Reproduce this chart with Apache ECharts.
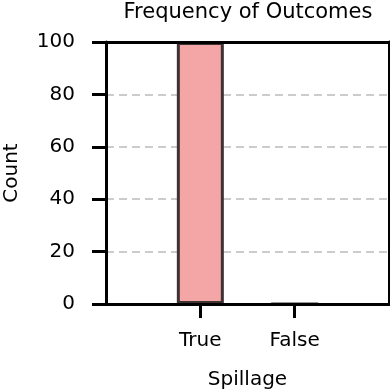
<!DOCTYPE html>
<html>
<head>
<meta charset="utf-8">
<script src="https://cdn.jsdelivr.net/npm/echarts@6/dist/echarts.min.js"></script>
<style>
  html, body { margin: 0; padding: 0; background: #fff; }
  #chart { width: 390px; height: 390px; }
</style>
</head>
<body>
<div id="chart"></div>
<script>
// data
const categories = ['True', 'False']
const counts = [100, 0]
const yTicks = [0, 20, 40, 60, 80, 100]

const chart = echarts.init(document.getElementById('chart'))

// pad one empty slot on each side so the bars sit like in the original (xlim -1..2)
const axisCats = ['', ...categories, '']
const barData = [null, ...counts, null]
const isReal = (i) => i > 0 && i < axisCats.length - 1

const font = 'DejaVu Sans'
const spine = { color: '#000', width: 3 }

const option = {
  animation: false,
  textStyle: { fontFamily: font },
  title: {
    text: 'Frequency of Outcomes',
    left: 243,
    top: -3,
    textAlign: 'center',
    textStyle: { fontSize: 21, fontWeight: 'normal', color: '#000', fontFamily: font },
  },
  grid: { left: 106, right: 1, top: 42, bottom: 86, outerBoundsMode: 'none' },
  xAxis: [
    {
      type: 'category',
      data: axisCats,
      boundaryGap: false,
      name: 'Spillage',
      nameLocation: 'middle',
      nameGap: 66,
      nameTextStyle: { fontSize: 20, color: '#000' },
      axisLine: { onZero: false, lineStyle: spine },
      axisTick: { length: 14, lineStyle: spine, interval: (i) => isReal(i) },
      axisLabel: { margin: 27, fontSize: 20, color: '#000', interval: (i) => isReal(i) },
      splitLine: { show: false },
      z: 5,
    },
    {
      // top spine
      type: 'category',
      data: axisCats,
      boundaryGap: false,
      position: 'top',
      axisLine: { onZero: false, lineStyle: spine },
      axisTick: { show: false },
      axisLabel: { show: false },
      z: 5,
    },
  ],
  yAxis: [
    {
      type: 'value',
      min: 0,
      max: 100,
      interval: 20,
      name: 'Count',
      nameLocation: 'middle',
      nameGap: 84,
      nameTextStyle: { fontSize: 20, color: '#000' },
      axisLine: { show: true, onZero: false, lineStyle: spine },
      axisTick: { show: true, length: 14, lineStyle: spine },
      axisLabel: {
        margin: 31,
        fontSize: 20,
        color: '#000',
        formatter: (v) => (yTicks.includes(v) ? String(v) : ''),
      },
      splitLine: { show: true, lineStyle: { color: '#cccccc', width: 2, type: [8, 5] } },
    },
    {
      // right spine
      type: 'value',
      min: 0,
      max: 100,
      position: 'right',
      axisLine: { show: true, onZero: false, lineStyle: spine },
      axisTick: { show: false },
      axisLabel: { show: false },
      splitLine: { show: false },
      z: 5,
    },
  ],
  series: [
    {
      name: 'Count',
      type: 'bar',
      data: barData,
      barWidth: 47,
      itemStyle: { color: '#f4a6a6', borderColor: '#3d3333', borderWidth: 3 },
      z: 3,
    },
  ],
}

chart.setOption(option)
</script>
</body>
</html>
